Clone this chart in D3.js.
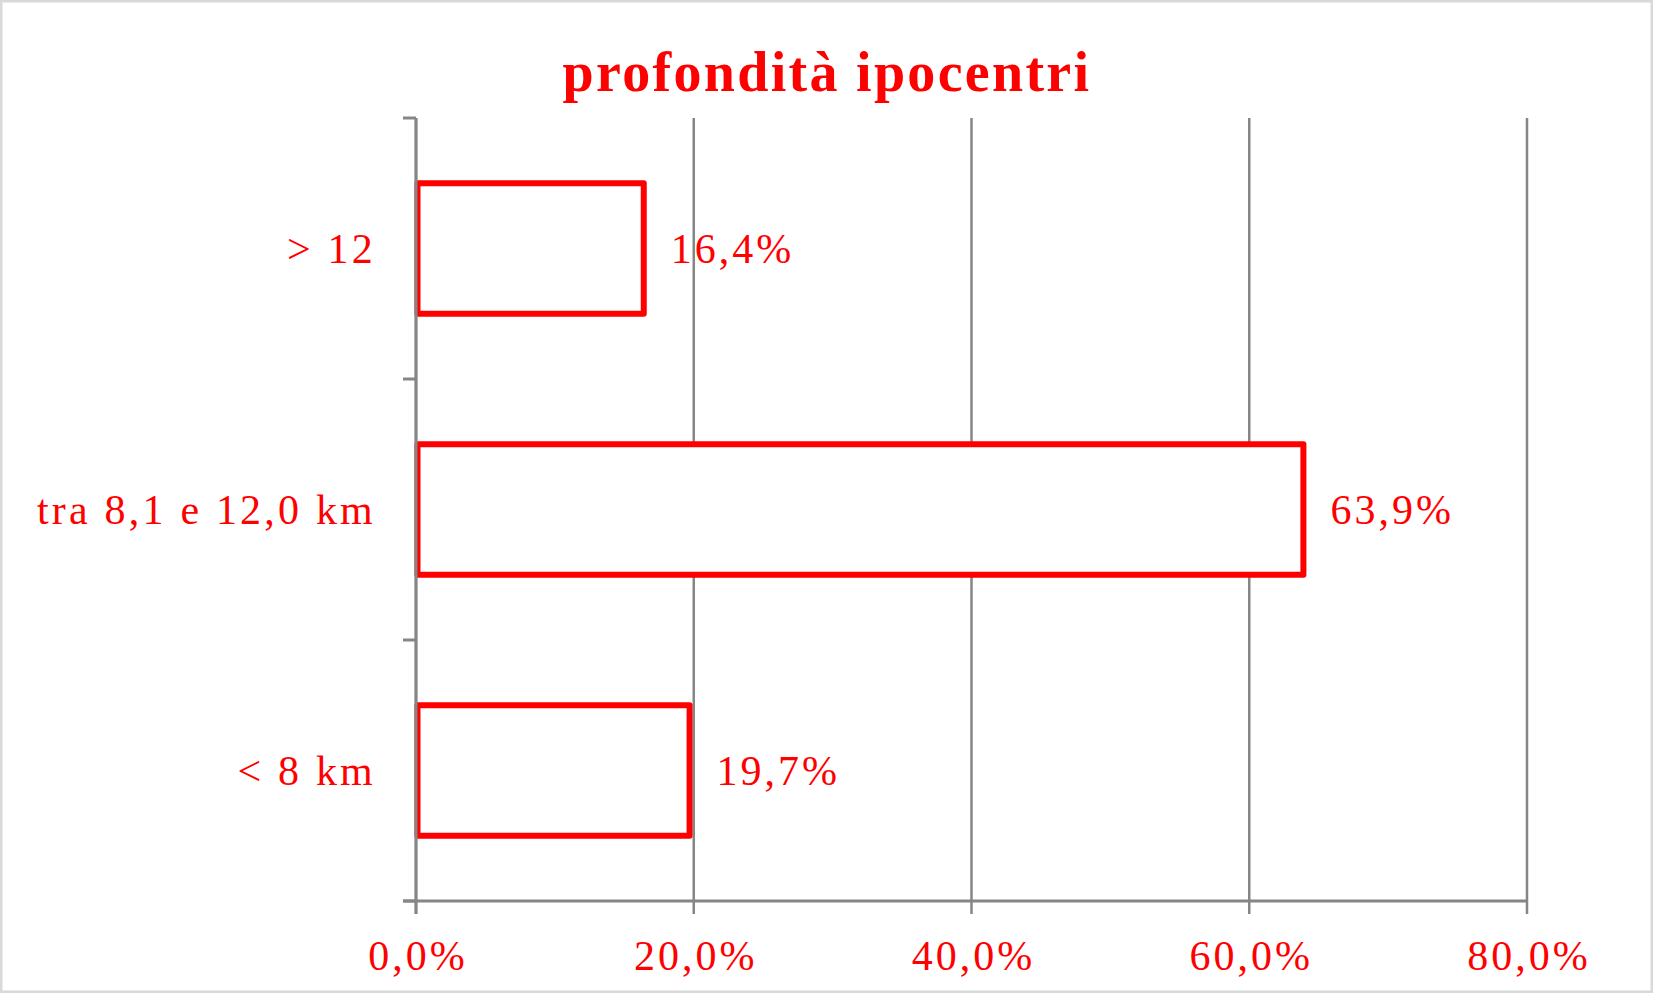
<!DOCTYPE html>
<html>
<head>
<meta charset="utf-8">
<script src="https://d3js.org/d3.v7.min.js"></script>
<style>
body { margin: 0; background: white; }
svg { display: block; }
</style>
</head>
<body>
<div id="chart"></div>
<script>
// data
var categories = ["> 12", "tra 8,1 e 12,0 km", "< 8 km"];
var values = [16.4, 63.9, 19.7];
var xTicks = [0, 20, 40, 60, 80];
var title = "profondità ipocentri";

var W = 1653, H = 993;
var red = "#ff0000", grey = "#868686";
var fontFam = "'Liberation Serif', 'Times New Roman', serif";

var svg = d3.select("#chart").append("svg")
  .attr("width", W)
  .attr("height", H);

// outer border
svg.append("rect")
  .attr("x", 1).attr("y", 1)
  .attr("width", W - 2).attr("height", H - 2)
  .attr("fill", "white")
  .attr("stroke", "#d9d9d9")
  .attr("stroke-width", 3);

var margin = { top: 118, bottom: 92, left: 416, right: 126 };
var width = W - margin.left - margin.right;
var height = H - margin.top - margin.bottom;
var chart = svg.append("g").attr("transform", `translate(${margin.left},${margin.top})`);

var xScale = d3.scaleLinear().domain([0, 80]).range([0, width]);
var yScale = d3.scaleBand().domain(categories).range([0, height])
  .paddingInner(0.5).paddingOuter(0.25);

function fmt(d) { return d.toFixed(1).replace(".", ",") + "%"; }

function styleText(sel, size, spacing) {
  sel.style("font-family", fontFam)
    .style("font-size", size + "px")
    .style("letter-spacing", spacing + "px")
    .attr("fill", red);
}

// vertical grid lines (with tick below the axis)
chart.append("g")
  .selectAll("line")
  .data(xTicks)
  .enter().append("line")
  .attr("x1", d => xScale(d)).attr("x2", d => xScale(d))
  .attr("y1", 0).attr("y2", height + 13)
  .attr("stroke", grey).attr("stroke-width", 2.5);

// x axis line
chart.append("line")
  .attr("x1", -13).attr("x2", xScale(80))
  .attr("y1", height).attr("y2", height)
  .attr("stroke", grey).attr("stroke-width", 3);

// category boundary ticks on the y axis
var yTickPos = d3.range(categories.length + 1).map(i => i * height / categories.length);
chart.append("g")
  .selectAll("line")
  .data(yTickPos)
  .enter().append("line")
  .attr("x1", -13).attr("x2", 0)
  .attr("y1", d => d).attr("y2", d => d)
  .attr("stroke", grey).attr("stroke-width", 3);

// x tick labels
chart.append("g")
  .selectAll("text")
  .data(xTicks)
  .enter().append("text")
  .attr("x", d => xScale(d) + 2)
  .attr("y", height + 69)
  .attr("text-anchor", "middle")
  .call(styleText, 42, 3)
  .text(fmt);

// category labels
chart.append("g")
  .selectAll("text")
  .data(categories)
  .enter().append("text")
  .attr("x", -40)
  .attr("y", d => yScale(d) + yScale.bandwidth() / 2)
  .attr("dy", "0.35em")
  .attr("text-anchor", "end")
  .call(styleText, 42, 3.2)
  .text(d => d);

// bars (left edge sits just inside the axis)
chart.append("g")
  .selectAll("rect")
  .data(values)
  .enter().append("rect")
  .attr("x", 1.5)
  .attr("y", (d, i) => yScale(categories[i]))
  .attr("width", d => xScale(d) - 1.5)
  .attr("height", yScale.bandwidth())
  .attr("fill", "white")
  .attr("stroke", red)
  .attr("stroke-width", 6)
  .attr("stroke-linejoin", "round");

// value labels
chart.append("g")
  .selectAll("text")
  .data(values)
  .enter().append("text")
  .attr("x", d => xScale(d) + 27)
  .attr("y", (d, i) => yScale(categories[i]) + yScale.bandwidth() / 2)
  .attr("dy", "0.35em")
  .call(styleText, 42, 3)
  .text(fmt);

// y axis line
chart.append("line")
  .attr("x1", 0).attr("x2", 0)
  .attr("y1", 0).attr("y2", height + 13)
  .attr("stroke", grey).attr("stroke-width", 3);

// title
svg.append("text")
  .attr("x", 827)
  .attr("y", 91)
  .attr("text-anchor", "middle")
  .call(styleText, 56, 2.3)
  .style("font-weight", "bold")
  .text(title);
</script>
</body>
</html>
